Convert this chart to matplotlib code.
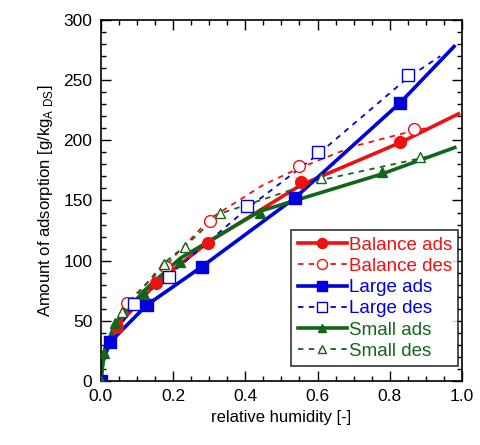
import numpy as np
import matplotlib.pyplot as plt
from matplotlib.ticker import MultipleLocator

plt.rcParams['font.family'] = ['Liberation Sans', 'DejaVu Sans']
plt.rcParams['mathtext.fontset'] = 'custom'
plt.rcParams['mathtext.rm'] = 'Liberation Sans'

# marker data (relative humidity, adsorption)
bal_ads_x = [0.0, 0.044, 0.152, 0.296, 0.555, 0.828]
bal_ads_y = [0, 45, 81, 115, 165, 199]
bal_des_x = [0.0, 0.072, 0.180, 0.303, 0.550, 0.866]
bal_des_y = [0, 65, 95, 133, 179, 209]
lrg_ads_x = [0.0, 0.025, 0.127, 0.280, 0.537, 0.828]
lrg_ads_y = [0, 32, 63, 95, 152, 231]
lrg_des_x = [0.091, 0.190, 0.404, 0.600, 0.850]
lrg_des_y = [64, 86, 145, 190, 254]
sml_ads_x = [0.0, 0.010, 0.040, 0.120, 0.220, 0.440, 0.778]
sml_ads_y = [0, 23, 48, 72, 99, 140, 174]
sml_des_x = [0.058, 0.175, 0.233, 0.330, 0.610, 0.884]
sml_des_y = [57, 97, 111, 140, 169, 186]

# fitted curves
bal_ads_cx = [0.0, 0.005, 0.044, 0.152, 0.296, 0.555, 0.828, 0.99]
bal_ads_cy = [0, 22, 45, 81, 115, 163, 198, 222]
bal_des_cx = [0.0, 0.005, 0.072, 0.180, 0.303, 0.450, 0.550, 0.700, 0.866, 0.90]
bal_des_cy = [0, 25, 65, 96, 135, 163, 177, 195, 208, 210]
lrg_ads_cx = [0.0, 0.005, 0.025, 0.127, 0.280, 0.537, 0.828, 0.978]
lrg_ads_cy = [0, 15, 32, 63, 95, 152, 231, 278]
lrg_des_cx = [0.0, 0.005, 0.091, 0.190, 0.404, 0.600, 0.850, 0.94]
lrg_des_cy = [0, 20, 64, 88, 143, 188, 252, 270]
sml_ads_cx = [0.0, 0.010, 0.040, 0.120, 0.220, 0.440, 0.778, 0.98]
sml_ads_cy = [0, 25, 48, 75, 102, 141, 172, 194]
sml_des_cx = [0.0, 0.005, 0.058, 0.175, 0.233, 0.330, 0.610, 0.884, 0.91]
sml_des_cy = [0, 22, 57, 98, 112, 139, 167, 185, 187]

red = '#ee1111'
blue = '#0000dd'
green = '#11661a'

fig = plt.figure(figsize=(4.8, 4.45), dpi=100)
ax = fig.add_axes([0.210, 0.144, 0.7525, 0.811])

series = [
    ('Balance ads', bal_ads_x, bal_ads_y, bal_ads_cx, bal_ads_cy, red, '-', 'o', True),
    ('Balance des', bal_des_x, bal_des_y, bal_des_cx, bal_des_cy, red, '--', 'o', False),
    ('Large ads', lrg_ads_x, lrg_ads_y, lrg_ads_cx, lrg_ads_cy, blue, '-', 's', True),
    ('Large des', lrg_des_x, lrg_des_y, lrg_des_cx, lrg_des_cy, blue, '--', 's', False),
    ('Small ads', sml_ads_x, sml_ads_y, sml_ads_cx, sml_ads_cy, green, '-', '^', True),
    ('Small des', sml_des_x, sml_des_y, sml_des_cx, sml_des_cy, green, '--', '^', False),
]

handles = []
for name, x, y, cx, cy, c, ls, m, filled in series:
    lw = 2.6 if ls == '-' else 1.3
    dash = (None if ls == '-' else (3, 3))
    line, = ax.plot(cx, cy, color=c, lw=lw, ls=ls, zorder=2)
    if dash:
        line.set_dashes(dash)
    ms = 8.5 if m != '^' else 7.5
    ax.plot(x, y, ls='none', marker=m, ms=ms, color=c,
            mfc=c if filled else 'white', mec=c, mew=1.0, zorder=3)
    h, = ax.plot([], [], color=c, lw=lw, ls=ls, marker=m, ms=ms * 0.85,
                 mfc=c if filled else 'white', mec=c)
    if dash:
        h.set_dashes(dash)
    handles.append(h)

ax.set_xlim(0, 1.0)
ax.set_ylim(0, 300)
ax.xaxis.set_minor_locator(MultipleLocator(0.05))
ax.yaxis.set_major_locator(MultipleLocator(50))
ax.yaxis.set_minor_locator(MultipleLocator(10))
ax.set_xticks(np.arange(0, 1.01, 0.2))
ax.set_xticklabels(['0.0', '0.2', '0.4', '0.6', '0.8', '1.0'])
ax.tick_params(which='both', direction='in', top=True, right=True, labelsize=12.5, pad=6)
ax.tick_params(which='major', length=7, width=1)
ax.tick_params(which='minor', length=3.5, width=1)
for s in ax.spines.values():
    s.set_linewidth(1.2)

ax.set_xlabel('relative humidity [-]', fontsize=12, labelpad=4)
ax.set_ylabel(r'Amount of adsorption [g/kg$_{\mathregular{A\ DS}}$]', fontsize=12, labelpad=6)

leg = ax.legend(handles, [s[0] for s in series], loc='lower right',
                bbox_to_anchor=(0.99, 0.04), fontsize=13.5, frameon=True,
                fancybox=False, edgecolor='black', handlelength=2.6,
                handletextpad=0.1, borderpad=0.35, labelspacing=0.22,
                borderaxespad=0.0)
leg.get_frame().set_linewidth(1.2)
for t, s in zip(leg.get_texts(), series):
    t.set_color(s[5])

fig.savefig('out.png', dpi=100)
